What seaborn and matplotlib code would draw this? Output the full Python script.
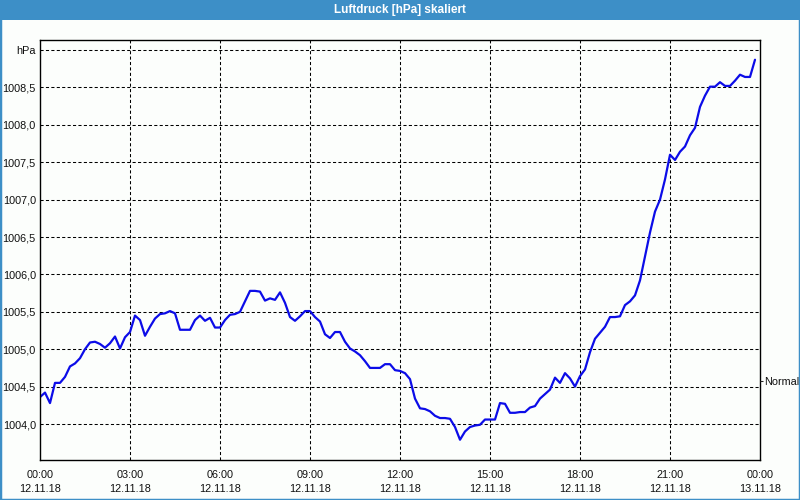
import numpy as np
import pandas as pd
import matplotlib
matplotlib.use("Agg")
import matplotlib.pyplot as plt
from matplotlib.patches import Rectangle
import seaborn as sns

# ---------------- data ----------------
title = "Luftdruck [hPa] skaliert"
unit_label = "hPa"
normal_label = "Normal"
normal_value = 1004.58

# 10-minute readings, 12.11.18 00:00 .. 23:50
pressure = [
    1004.36, 1004.42, 1004.28, 1004.55, 1004.55, 1004.63, 1004.77, 1004.81, 1004.88, 1005.00,
    1005.09, 1005.10, 1005.07, 1005.02, 1005.08, 1005.17, 1005.01, 1005.16, 1005.23, 1005.45,
    1005.39, 1005.18, 1005.30, 1005.41, 1005.47, 1005.48, 1005.51, 1005.48, 1005.26, 1005.26,
    1005.26, 1005.39, 1005.45, 1005.38, 1005.42, 1005.29,
    1005.29, 1005.39, 1005.46, 1005.47, 1005.50, 1005.64, 1005.78, 1005.78, 1005.77, 1005.65,
    1005.68, 1005.66, 1005.76, 1005.62, 1005.43, 1005.38, 1005.44, 1005.51, 1005.51, 1005.43,
    1005.37, 1005.20, 1005.15, 1005.23, 1005.23, 1005.10, 1005.01, 1004.97, 1004.92, 1004.84,
    1004.75, 1004.75, 1004.75, 1004.80, 1004.80, 1004.72,
    1004.71, 1004.68, 1004.60, 1004.34, 1004.21, 1004.20, 1004.17, 1004.11, 1004.08, 1004.08,
    1004.07, 1003.96, 1003.79, 1003.90, 1003.96, 1003.98, 1003.99, 1004.06, 1004.06, 1004.06,
    1004.28, 1004.27, 1004.15, 1004.15, 1004.16, 1004.16, 1004.22, 1004.24, 1004.34, 1004.40,
    1004.46, 1004.62, 1004.55, 1004.68, 1004.61, 1004.50,
    1004.64, 1004.73, 1004.96, 1005.14, 1005.22, 1005.30, 1005.43, 1005.43, 1005.44, 1005.59,
    1005.64, 1005.72, 1005.92, 1006.24, 1006.56, 1006.84, 1007.00, 1007.27, 1007.60, 1007.53,
    1007.64, 1007.71, 1007.86, 1007.96, 1008.24, 1008.39, 1008.51, 1008.51, 1008.57, 1008.52,
    1008.52, 1008.59, 1008.67, 1008.64, 1008.64, 1008.87,
]
hours = [i / 6 for i in range(len(pressure))]  # 10-minute sampling

x_tick_hours = [0, 3, 6, 9, 12, 15, 18, 21, 24]
x_tick_labels = ["00:00\n12.11.18", "03:00\n12.11.18", "06:00\n12.11.18",
                 "09:00\n12.11.18", "12:00\n12.11.18", "15:00\n12.11.18",
                 "18:00\n12.11.18", "21:00\n12.11.18", "00:00\n13.11.18"]
y_tick_values = [1004.0, 1004.5, 1005.0, 1005.5, 1006.0, 1006.5,
                 1007.0, 1007.5, 1008.0, 1008.5, 1009.0]
y_tick_labels = ["1004,0", "1004,5", "1005,0", "1005,5", "1006,0", "1006,5",
                 "1007,0", "1007,5", "1008,0", "1008,5", "hPa"]

df = pd.DataFrame({"hour": hours, "pressure": pressure})

# ---------------- style ----------------
sns.set_style("white")
plt.rcParams["font.family"] = ["Liberation Sans", "DejaVu Sans"]
BG = "#fcfefc"
BAR = "#3d8fc7"
TXT = "#101010"
FS = 7.8

fig = plt.figure(figsize=(8, 5), dpi=100, facecolor=BG)
ax = fig.add_axes([40 / 800, 40 / 500, 720 / 800, 420 / 500])
ax.set_facecolor(BG)

sns.lineplot(data=df, x="hour", y="pressure", ax=ax, color="#0c0ce8",
             linewidth=1.6, legend=False)

ax.set_xlim(0, 24)
ax.set_ylim(1003.519, 1009.134)

# grid
ax.set_xticks(x_tick_hours)
ax.set_xticklabels(x_tick_labels, fontsize=FS, color=TXT, linespacing=1.5)
ax.set_xticks(range(0, 25), minor=True)
ax.set_yticks(y_tick_values)
ax.set_yticklabels(y_tick_labels, fontsize=FS, color=TXT)

for v in y_tick_values:
    ax.axhline(v, color="black", linewidth=0.75, linestyle=(0, (3, 2.2)), zorder=1)
for h in x_tick_hours[1:-1]:
    ax.axvline(h, color="black", linewidth=0.75, linestyle=(0, (3, 2.2)), zorder=1)

ax.tick_params(axis="x", which="both", direction="out", length=2.2, width=0.75,
               color="black", pad=5)
ax.tick_params(axis="y", which="both", length=0, pad=3)
for s in ax.spines.values():
    s.set_visible(True)
    s.set_color("black")
    s.set_linewidth(1.0)
ax.set_xlabel("")
ax.set_ylabel("")

# "Normal" marker on right side
ax2 = ax.twinx()
ax2.set_ylim(ax.get_ylim())
ax2.set_yticks([normal_value])
ax2.set_yticklabels([normal_label], fontsize=FS, color=TXT)
ax2.tick_params(axis="y", direction="out", length=2.2, width=0.75, pad=1)
for s in ax2.spines.values():
    s.set_visible(False)

# title bar and frame
fig.patches.append(Rectangle((0, 1 - 20 / 500), 1, 20 / 500, transform=fig.transFigure,
                             facecolor=BAR, edgecolor="none", zorder=0))
fig.text(0.5, 1 - 10 / 500, title, ha="center", va="center", color="white",
         fontsize=8.5, fontweight="bold")
fig.patches.append(Rectangle((0, 0), 1, 1, transform=fig.transFigure, fill=False,
                             edgecolor=BAR, linewidth=2.5, zorder=10))

fig.savefig("out.png", dpi=100, facecolor=BG)
